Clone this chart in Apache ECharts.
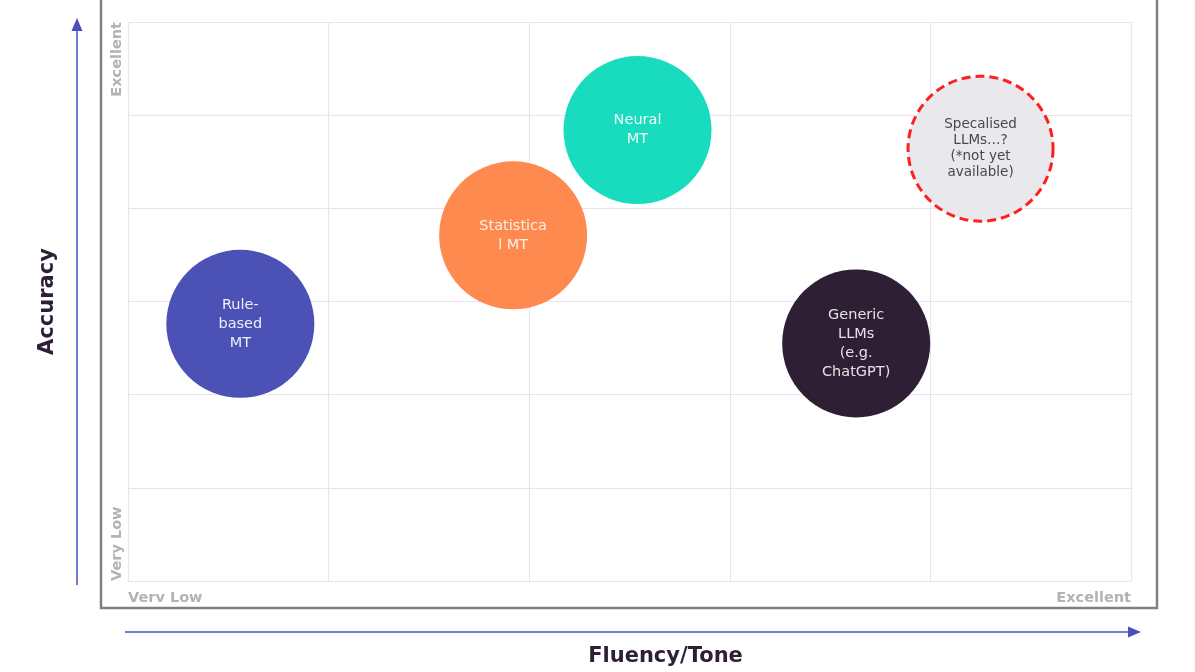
<!DOCTYPE html>
<html style="height: 100%">
<head>
  <meta charset="utf-8">
  <title>MT accuracy vs fluency</title>
</head>
<body style="height: 100%; margin: 0; background: #fff">
<div id="container" style="height: 100%"></div>
<script type="text/javascript" src="https://cdn.jsdelivr.net/npm/echarts@6/dist/echarts.min.js"></script>
<script type="text/javascript">
  // data
  let names = ['Rule-\nbased\nMT', 'Statistica\nl MT', 'Neural\nMT', 'Generic\nLLMs\n(e.g.\nChatGPT)', 'Specalised\nLLMs…?\n(*not yet\navailable)']
  let fluency = [0.56, 1.92, 2.54, 3.63, 4.25]
  let accuracy = [2.76, 3.71, 4.84, 2.55, 4.64]
  let xTickLabels = ['Verv Low', 'Excellent']
  let yTickLabels = ['Very Low', 'Excellent']

  // styles
  let fills = ['#4b51b5', '#ff8a50', '#19dcbe', '#2e1f35', '#e9e8ed']
  let textColors = ['#eeeef8', '#fdf0e8', '#eefcf9', '#e4e1e6', '#4b4552']
  let font = '"DejaVu Sans", sans-serif'
  let arrowColor = '#4a4fbd'

  let dom = document.getElementById('container')
  let myChart = echarts.init(dom)

  let points = names.map((n, i) => {
    let item = {
      name: n,
      value: [fluency[i], accuracy[i]],
      itemStyle: { color: fills[i], opacity: 1 },
      label: { color: textColors[i] }
    }
    if (i === names.length - 1) {
      item.itemStyle.borderColor = '#ff1f1f'
      item.itemStyle.borderWidth = 3
      item.itemStyle.borderType = [9, 5]
      item.label.lineHeight = 16
      item.label.fontSize = 13.5
      item.symbolSize = 145
    }
    return item
  })

  let option = {
    animation: false,
    backgroundColor: '#fff',
    grid: { left: 128, right: 64, top: 22, bottom: 90 },
    xAxis: {
      type: 'value', min: 0, max: 5, interval: 1,
      name: 'Fluency/Tone', nameLocation: 'middle', nameGap: 65,
      nameTextStyle: { fontFamily: font, fontSize: 21, fontWeight: 'bold', color: '#2d1f36', padding: [0, 0, 0, 72] },
      axisLine: { show: false }, axisTick: { show: false },
      axisLabel: {
        margin: 10, fontFamily: font, fontSize: 14.5, fontWeight: 'bold', color: '#b3b3b3',
        alignMinLabel: 'left', alignMaxLabel: 'right',
        formatter: v => v === 0 ? xTickLabels[0] : (v === 5 ? xTickLabels[1] : '')
      },
      splitLine: { show: true, lineStyle: { color: '#ebe1ef', width: 1.2 } }
    },
    yAxis: {
      type: 'value', min: 0, max: 6, interval: 1,
      name: 'Accuracy', nameLocation: 'middle', nameGap: 70, nameRotate: 90,
      nameTextStyle: { fontFamily: font, fontSize: 21, fontWeight: 'bold', color: '#2d1f36' },
      axisLine: { show: false }, axisTick: { show: false },
      axisLabel: {
        rotate: 90, margin: 3, fontFamily: font, fontSize: 14.5, fontWeight: 'bold', color: '#b3b3b3',
        alignMinLabel: 'left', alignMaxLabel: 'right',
        formatter: v => v === 0 ? yTickLabels[0] : (v === 6 ? yTickLabels[1] : '')
      },
      splitLine: { show: true, lineStyle: { color: '#ebe1ef', width: 1.2 } }
    },
    graphic: [
      // frame round the plot
      { type: 'rect', shape: { x: 101, y: -10, width: 1056, height: 618 }, style: { fill: null, stroke: '#808080', lineWidth: 2.5 }, z: 1 },
      // vertical arrow
      { type: 'line', shape: { x1: 77, y1: 585, x2: 77, y2: 28 }, style: { stroke: arrowColor, lineWidth: 1.5 } },
      { type: 'polygon', shape: { points: [[77, 18], [71.5, 31], [82.5, 31]] }, style: { fill: arrowColor } },
      // horizontal arrow
      { type: 'line', shape: { x1: 125, y1: 632, x2: 1130, y2: 632 }, style: { stroke: arrowColor, lineWidth: 1.5 } },
      { type: 'polygon', shape: { points: [[1141, 632], [1128, 626.5], [1128, 637.5]] }, style: { fill: arrowColor } }
    ],
    series: [
      {
        type: 'scatter',
        symbol: 'circle',
        symbolSize: 148,
        data: points,
        label: {
          show: true, position: 'inside', formatter: '{b}',
          fontFamily: font, fontSize: 14.5, lineHeight: 19, align: 'center'
        },
        emphasis: { disabled: true }
      }
    ]
  }

  myChart.setOption(option, true)
</script>
</body>
</html>
